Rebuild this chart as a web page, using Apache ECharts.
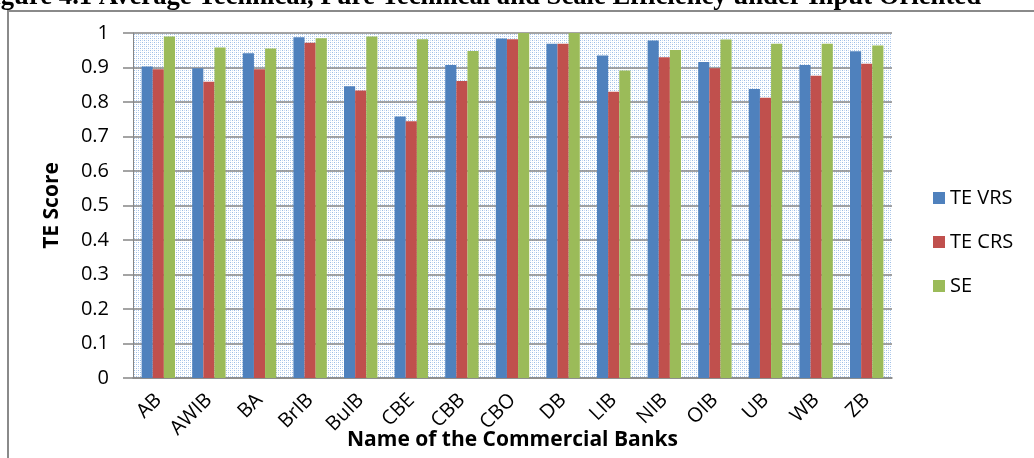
<!DOCTYPE html>
<html>
<head>
<meta charset="utf-8">
<style>
html,body{margin:0;padding:0;background:#fff;}
#c{width:1034px;height:458px;}
</style>
<script src="https://cdn.jsdelivr.net/npm/echarts@6/dist/echarts.min.js"></script>
</head>
<body>
<div id="c"></div>
<script>
var categories = ["AB","AWIB","BA","BrIB","BuIB","CBE","CBB","CBO","DB","LIB","NIB","OIB","UB","WB","ZB"];
var teVrs = [0.903,0.898,0.941,0.988,0.846,0.758,0.907,0.984,0.969,0.935,0.978,0.916,0.838,0.907,0.947];
var teCrs = [0.895,0.859,0.895,0.972,0.833,0.744,0.861,0.982,0.969,0.830,0.930,0.898,0.812,0.876,0.911];
var se    = [0.990,0.958,0.955,0.985,0.990,0.982,0.948,1.000,1.000,0.891,0.951,0.981,0.969,0.969,0.964];
var seriesNames = ["TE VRS","TE CRS","SE"];
var titleText = "Figure 4.1 Average Technical, Pure Technical and Scale Efficiency under Input Oriented";

// dotted background pattern
var pc = document.createElement('canvas');
pc.width = 4; pc.height = 4;
var pctx = pc.getContext('2d');
pctx.fillStyle = '#ffffff'; pctx.fillRect(0,0,4,4);
pctx.fillStyle = '#9dbde6';
pctx.fillRect(0,0,1,1); pctx.fillRect(2,2,1,1);
pctx.fillStyle = '#c9dbf1';
pctx.fillRect(2,0,1,1); pctx.fillRect(0,2,1,1);

var font = "'Open Sans', 'Noto Sans', sans-serif";
var chart = echarts.init(document.getElementById('c'), null, {renderer:'canvas'});
var colors = ['#4F81BD','#C0504D','#9BBB59'];
var datas = [teVrs, teCrs, se];
var series = seriesNames.map(function(n,i){
  return {
    name: n, type: 'bar', data: datas[i],
    barGap: '0%', barCategoryGap: '34%',
    itemStyle: {color: colors[i]}
  };
});
chart.setOption({
  animation: false,
  color: colors,
  graphic: [
    {type:'rect', shape:{x:8, y:11, width:1040, height:460}, style:{fill:'none', stroke:'#8a8a8a', lineWidth:2}, z:-10},
    {type:'text', x:-23, y:11, style:{text:titleText, font:"bold 26.7px 'Liberation Serif', serif", fill:'#000', verticalAlign:'bottom'}}
  ],
  grid: {left:133, right:142, top:33, bottom:80, outerBoundsMode:'none', containLabel:false,
         show:true, backgroundColor:{image:pc, repeat:'repeat'}, borderWidth:0},
  legend: {
    orient:'vertical', left:928, top:183, itemWidth:12, itemHeight:12, itemGap:24, icon:'rect',
    textStyle:{fontFamily:font, fontSize:20, color:'#000'},
    data: seriesNames
  },
  xAxis: {
    type:'category', data:categories,
    name:'Name of the Commercial Banks', nameLocation:'middle', nameGap:52, nameMoveOverlap:false,
    nameTextStyle:{fontFamily:font, fontSize:21, fontWeight:'bold', color:'#000'},
    axisLine:{lineStyle:{color:'#868686', width:1.5}},
    axisTick:{show:false},
    axisLabel:{rotate:45, interval:0, margin:19, fontFamily:font, fontSize:20, color:'#000'}
  },
  yAxis: {
    type:'value', min:0, max:1, interval:0.1,
    name:'TE Score', nameLocation:'middle', nameGap:70, nameMoveOverlap:false,
    nameTextStyle:{fontFamily:font, fontSize:21, fontWeight:'bold', color:'#000'},
    axisLine:{show:true, lineStyle:{color:'#868686'}},
    axisTick:{show:true, length:10, lineStyle:{color:'#868686', width:1.5}},
    splitLine:{lineStyle:{color:'#868686', width:1.5}},
    axisLabel:{margin:24, fontFamily:font, fontSize:20, color:'#000',
      formatter:function(v){ return (v===0)?'0':(v===1?'1':v.toFixed(1)); }}
  },
  series: series
});
</script>
</body>
</html>
